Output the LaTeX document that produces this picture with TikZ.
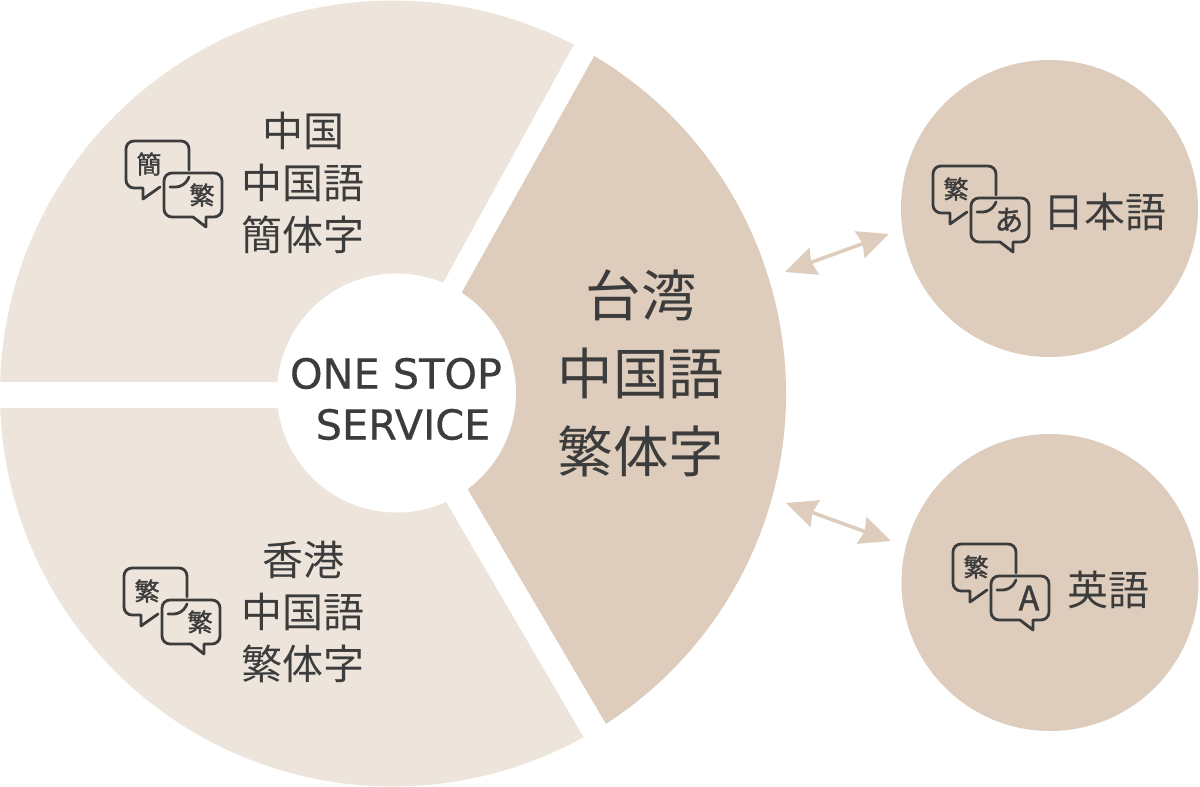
\documentclass[tikz,border=0pt]{standalone}
\usepackage{fontspec}
\setmainfont{DejaVu Sans}
\newfontfamily\cjk{Noto Sans CJK JP}
\newfontfamily\cjkicon[FakeBold=1.2]{Noto Sans CJK JP}
\newfontfamily\hubfont[FakeBold=0.5]{DejaVu Sans}
\usetikzlibrary{arrows.meta}
\definecolor{paleseg}{HTML}{EDE5DB}
\definecolor{darkseg}{HTML}{DECDBD}
\definecolor{inktext}{HTML}{3C3C3C}
\tikzset{
	kanjilabel/.style={text=inktext,align=center,font=\cjk\fontsize{20.5}{26}\selectfont},
	biglabel/.style={text=inktext,align=center,font=\cjk\fontsize{27.7}{39}\selectfont},
	iconchar/.style={text=inktext,inner sep=0pt,font=\cjkicon\fontsize{12.5}{12.5}\selectfont},
	swaparrow/.style={darkseg,line width=1.8pt,{Stealth[length=15.5pt,width=14pt,inset=1.5pt]}-{Stealth[length=15.5pt,width=14pt,inset=1.5pt]}},
	iconline/.style={inktext,line width=1.4pt,line cap=round,line join=round},
	pics/chaticon/.style 2 args={code={
		\draw[iconline] (63,-29) [rounded corners=4pt] -- (63,0) -- (0,0) -- (0,-47) [sharp corners] -- (17,-47) -- (17,-58) -- (34,-46);
		\draw[iconline,rounded corners=4pt] (44,-46) -- (58,-46) -- (63,-36);
		\draw[iconline] (38,-54) [rounded corners=4pt] -- (38,-32) -- (96,-32) -- (96,-76) [sharp corners] -- (80,-76) -- (80,-86) -- (67,-76) [rounded corners=4pt] -- (38,-76) -- cycle;
		\node[iconchar] (-first) at (23,-23) {#1};
		\node[iconchar] (-second) at (76,-54) {#2};
	}}
}
\begin{document}
\begin{tikzpicture}[x=0.5pt,y=0.5pt]
	\useasboundingbox (0,0) rectangle (1200,787);
	\coordinate (hub) at (393,393.5);
	% three segments
	\fill[paleseg] ([shift={(178.3:393)}]hub) arc[start angle=178.3,end angle=62.6,radius=393] -- (443,504) -- (278,405) -- cycle;
	\fill[paleseg] ([shift={(182.1:393)}]hub) arc[start angle=182.1,end angle=299,radius=393] -- (445,287) -- (278,379) -- cycle;
	\fill[darkseg] ([shift={(59.2:393)}]hub) arc[start angle=59.2,end angle=-57.2,radius=393] -- (467,299) -- (462,495) -- cycle;
	\node[circle,fill=white,minimum size=119.5pt,inner sep=0pt] (centre) at (396.5,394) {};
	\node[text=inktext,align=center,font=\hubfont\fontsize{20.7}{25.5}\selectfont] (service) at (396,388) {ONE STOP\\ \hspace{7pt}SERVICE};
	\node[kanjilabel] (china) at (303,604) {中国\\中国語\\簡体字};
	\node[kanjilabel] (hongkong) at (303,175) {香港\\中国語\\繁体字};
	\node[biglabel] (taiwan) at (641,414) {台湾\\中国語\\繁体字};
	\pic at (126,646) {chaticon={簡}{繁}};
	\pic at (124,219) {chaticon={繁}{繁}};
	% outer circles
	\node[circle,fill=darkseg,minimum size=148.5pt,inner sep=0pt] (japan) at (1049.5,578.5) {};
	\node[circle,fill=darkseg,minimum size=148.5pt,inner sep=0pt] (english) at (1050,204.5) {};
	\pic at (933,621) {chaticon={繁}{\fontsize{14.5}{14.5}\selectfont あ}};
	\pic at (953,243) {chaticon={繁}{\fontsize{17}{17}\selectfont A}};
	\node[kanjilabel] (japanese) at (1105,575) {日本語};
	\node[kanjilabel] (eigo) at (1108,197) {英語};
	\coordinate (aa) at (785,515);
	\coordinate (ab) at (889,553);
	\coordinate (ba) at (786,284);
	\coordinate (bb) at (891,246);
	\draw[swaparrow] (aa) -- (ab);
	\draw[swaparrow] (ba) -- (bb);
\end{tikzpicture}
\end{document}
